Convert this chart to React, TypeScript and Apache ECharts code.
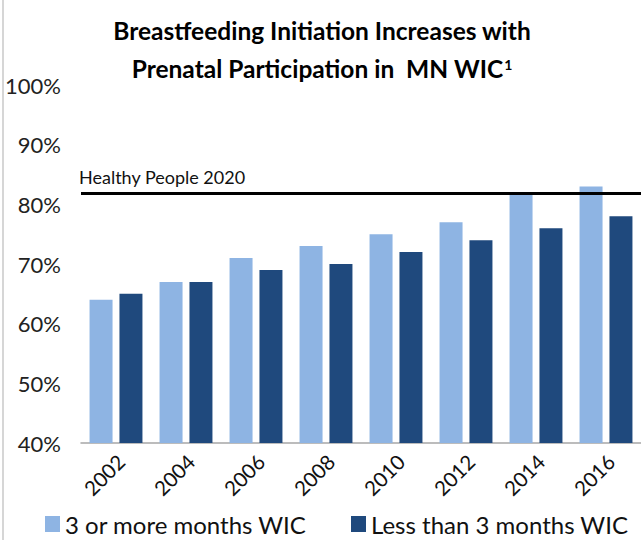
import React, { useEffect, useRef } from "react";
import * as echarts from "echarts";

const years = ["2002", "2004", "2006", "2008", "2010", "2012", "2014", "2016"];
const moreThan3 = [64, 67, 71, 73, 75, 77, 82, 83];
const lessThan3 = [65, 67, 69, 70, 72, 74, 76, 78];
const healthyPeopleTarget = 81.9;
const yTicks = [40, 50, 60, 70, 80, 90, 100];
const seriesNames = ["3 or more months WIC", "Less than 3 months WIC"];

const FONT = "Lato, 'Noto Sans', sans-serif";

export default function App() {
  const ref = useRef<HTMLDivElement>(null);
  useEffect(() => {
    document.body.style.margin = "0";
    const chart = echarts.init(ref.current!, null, { renderer: "svg" });
    const legendCommon = {
      top: 510,
      itemWidth: 15,
      itemHeight: 16,
      itemGap: 10,
      icon: "rect",
      width: 400,
      padding: 0,
      textStyle: { fontFamily: FONT, fontSize: 24, lineHeight: 28, color: "#111111" },
    };
    chart.setOption({
      animation: false,
      backgroundColor: "#ffffff",
      title: {
        text: "Breastfeeding Initiation Increases with\nPrenatal Participation in  MN WIC{sup|1}",
        left: 317,
        textAlign: "center",
        top: 6,
        textStyle: {
          fontFamily: FONT,
          fontWeight: "bold",
          fontSize: 24.5,
          color: "#000000",
          lineHeight: 38,
          rich: {
            sup: {
              fontFamily: FONT,
              fontWeight: "bold",
              fontSize: 14,
              color: "#000000",
              verticalAlign: "middle",
              padding: [0, 0, 8, 1],
            },
          },
        },
      },
      graphic: [
        {
          type: "line",
          shape: { x1: 3, y1: 0, x2: 3, y2: 540 },
          style: { stroke: "#c8c8c8", lineWidth: 1.5 },
        },
      ],
      legend: [
        { ...legendCommon, left: 45, data: [seriesNames[0]] },
        { ...legendCommon, left: 351, data: [seriesNames[1]] },
      ],
      grid: { left: 81, right: 0, top: 85, bottom: 97, containLabel: false },
      xAxis: {
        type: "category",
        data: years,
        axisLine: { lineStyle: { color: "#a6a6a6", width: 1.5 } },
        axisTick: { show: false },
        axisLabel: {
          rotate: 45,
          margin: 20,
          padding: [0, -7, 0, 0],
          fontFamily: FONT,
          fontSize: 20.5,
          color: "#111111",
        },
      },
      yAxis: {
        type: "value",
        min: 40,
        max: 100,
        interval: 10,
        axisLine: { show: false },
        axisTick: { show: false },
        splitLine: { show: false },
        axisLabel: {
          margin: 20,
          fontFamily: FONT,
          fontSize: 22,
          color: "#222222",
          formatter: (v: number) => (yTicks.includes(v) ? v + "%" : ""),
        },
      },
      series: [
        {
          name: seriesNames[0],
          type: "bar",
          data: moreThan3,
          barWidth: 23,
          barGap: "30%",
          itemStyle: { color: "#8eb4e3" },
          markLine: {
            silent: true,
            symbol: ["none", "none"],
            data: [{ yAxis: healthyPeopleTarget }],
            lineStyle: { color: "#000000", width: 3, type: "solid" },
            label: {
              show: true,
              position: "insideStartTop",
              formatter: "Healthy People 2020",
              fontFamily: FONT,
              fontSize: 18,
              color: "#111111",
              distance: [-2, 7],
            },
          },
        },
        {
          name: seriesNames[1],
          type: "bar",
          data: lessThan3,
          barWidth: 23,
          barGap: "30%",
          itemStyle: { color: "#1f497d" },
        },
      ],
    });
    return () => chart.dispose();
  }, []);
  return <div ref={ref} style={{ width: 641, height: 540 }} />;
}
